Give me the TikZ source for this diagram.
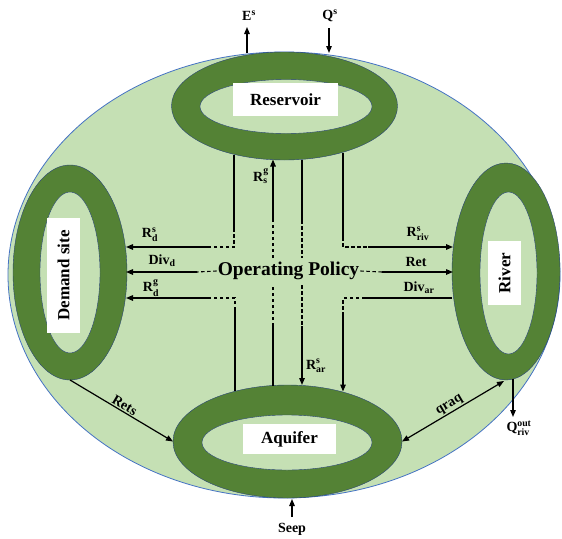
\documentclass[tikz,border=0pt]{standalone}
\usepackage{fontspec}
\setmainfont{Liberation Serif}
\usepackage{amsmath}
\usetikzlibrary{shapes.geometric,arrows.meta}
\definecolor{ringgreen}{HTML}{548235}
\definecolor{bggreen}{HTML}{C5E0B4}
\definecolor{edgeblue}{HTML}{4472C4}
\begin{document}
\begin{tikzpicture}[x=1pt,y=-1pt,
 ring/.style={ellipse, inner sep=0, outer sep=0, fill=ringgreen, draw=edgeblue!60!black, line width=0.4pt},
 hole/.style={ellipse, inner sep=0, outer sep=0, fill=bggreen, draw=edgeblue!60!black, line width=0.4pt},
 boxlbl/.style={fill=white, inner sep=0, font=\bfseries\fontsize{17}{20}\selectfont},
 tip/.style={-{Triangle[length=7pt,width=5.5pt]}},
 flow/.style={line width=1.4pt, tip},
 seg/.style={line width=1.4pt},
 dsh/.style={line width=1.1pt, dash pattern=on 3.5pt off 2.5pt},
 lab/.style={font=\bfseries\fontsize{14}{16}\selectfont, inner sep=1pt}]

\useasboundingbox (0,0) rectangle (562,538);
\node[ellipse, inner sep=0, outer sep=0, minimum width=552, minimum height=446, fill=bggreen, draw=edgeblue, line width=0.8pt] (sys) at (284,275) {};

% Reservoir
\node[ring, minimum width=226, minimum height=108] (res) at (284.5,106) {};
\node[hole, minimum width=172, minimum height=54] (resin) at (286,106.5) {};
\node[boxlbl, minimum width=105, minimum height=33] (reslbl) at (285.5,99.5) {Reservoir};

% Aquifer
\node[ring, minimum width=229, minimum height=113] (aqu) at (287.5,441.5) {};
\node[hole, minimum width=170, minimum height=55] (aquin) at (287,442.5) {};
\node[boxlbl, minimum width=93, minimum height=30] (aqulbl) at (289.5,439) {Aquifer};

% Demand site
\node[ring, minimum width=114, minimum height=215] (dem) at (70,272.5) {};
\node[hole, minimum width=60, minimum height=161] (demin) at (70,272.5) {};
\node[boxlbl, minimum width=115, minimum height=33, rotate=90] (demlbl) at (63.5,275.5) {Demand site};

% River
\node[ring, minimum width=108, minimum height=217] (riv) at (506,271.5) {};
\node[hole, minimum width=57, minimum height=162] (rivin) at (508.5,273) {};
\node[boxlbl, minimum width=64, minimum height=33, rotate=90] (rivlbl) at (504.5,273) {River};

% Operating policy
\node[font=\bfseries\fontsize{19.5}{22}\selectfont, inner sep=1pt] (op) at (288.5,271) {Operating Policy};

% R_d^s
\coordinate (a1) at (234,155);
\coordinate (a2) at (234,228);
\coordinate (a3) at (234,247);
\coordinate (a4) at (208,247);
\coordinate (a5) at (126,247);
\draw[seg] (a1) -- (a2);
\draw[dsh] (a2) -- (a3) -- (a4);
\draw[flow] (a4) -- (a5);
\node[lab] (lrds) at (150,235) {R$^{\text{s}}_{\text{d}}$};

% Div_d
\coordinate (v1) at (197,272);
\coordinate (v2) at (126,272);
\draw[dsh] (op.west) -- (v1);
\draw[flow] (v1) -- (v2);
\node[lab] (ldivd) at (162,261) {Div$_{\text{d}}$};

% R_d^g
\coordinate (g1) at (235,391);
\coordinate (g2) at (235,310);
\coordinate (g3) at (235,298);
\coordinate (g4) at (208,298);
\coordinate (g5) at (126,298);
\draw[seg] (g1) -- (g2);
\draw[dsh] (g2) -- (g3) -- (g4);
\draw[flow] (g4) -- (g5);
\node[lab] (lrdg) at (151,288) {R$^{\text{g}}_{\text{d}}$};

% R_s^g
\coordinate (b1) at (273,385.5);
\coordinate (b2) at (273,326);
\coordinate (b3) at (273,285);
\coordinate (b4) at (273,258);
\coordinate (b5) at (273,220);
\coordinate (b6) at (273,159.5);
\draw[seg] (b1) -- (b2);
\draw[dsh] (b2) -- (b3);
\draw[dsh] (b4) -- (b5);
\draw[flow] (b5) -- (b6);
\node[lab] (lrsg) at (261,176) {R$^{\text{g}}_{\text{s}}$};

% R_ar^s
\coordinate (c1) at (302,159.5);
\coordinate (c2) at (302,220);
\coordinate (c3) at (302,258);
\coordinate (c4) at (302,285);
\coordinate (c5) at (302,326);
\coordinate (c6) at (302,385);
\draw[seg] (c1) -- (c2);
\draw[dsh] (c2) -- (c3);
\draw[dsh] (c4) -- (c5);
\draw[flow] (c5) -- (c6);
\node[lab] (lrars) at (316,366) {R$^{\text{s}}_{\text{ar}}$};

% R_riv^s
\coordinate (d1) at (343,152.5);
\coordinate (d2) at (343,237);
\coordinate (d3) at (343,247);
\coordinate (d4) at (368,247);
\coordinate (d5) at (453,247);
\draw[seg] (d1) -- (d2);
\draw[dsh] (d2) -- (d3) -- (d4);
\draw[flow] (d4) -- (d5);
\node[lab] (lrrivs) at (418,234) {R$^{\text{s}}_{\text{riv}}$};

% Ret
\coordinate (r1) at (382,272);
\coordinate (r2) at (453,272);
\draw[dsh] (op.east) -- (r1);
\draw[flow] (r1) -- (r2);
\node[lab] (lret) at (416,262) {Ret};

% Div_ar
\coordinate (e1) at (452,298);
\coordinate (e2) at (365,298);
\coordinate (e3) at (343,298);
\coordinate (e4) at (343,312);
\coordinate (e5) at (343,391.5);
\draw[seg] (e1) -- (e2);
\draw[dsh] (e2) -- (e3) -- (e4);
\draw[flow] (e4) -- (e5);
\node[lab] (ldivar) at (419,288) {Div$_{\text{ar}}$};

% Rets
\draw[line width=1.2pt, tip] (dem.south) -- node[lab, sloped, above] (lrets) {Rets} (aqu.west);

% qraq
\coordinate (rq) at (504,381);
\draw[line width=1.2pt, {Triangle[length=7pt,width=5.5pt]}-{Triangle[length=7pt,width=5.5pt]}] (aqu.east) -- node[lab, sloped, above] (lqraq) {qraq} (rq);

% Q_riv^out
\coordinate (o1) at (513,379);
\coordinate (o2) at (513,417);
\draw[line width=1.2pt, tip] (o1) -- (o2);
\node[lab] (lqout) at (519,428) {Q$^{\text{out}}_{\text{riv}}$};

% Seep
\coordinate (sp) at (292,517);
\coordinate (sp2) at (292,499);
\draw[line width=1.2pt, tip] (sp) -- (sp2);
\node[lab] (lseep) at (292,529) {Seep};

% E^s
\coordinate (es1) at (247,53);
\coordinate (es2) at (247,27);
\draw[line width=1.2pt, tip] (es1) -- (es2);
\node[lab] (les) at (249,16) {E$^{\text{s}}$};

% Q^s
\coordinate (qs1) at (329,28);
\coordinate (qs2) at (329,53);
\draw[line width=1.2pt, tip] (qs1) -- (qs2);
\node[lab] (lqs) at (330,16) {Q$^{\text{s}}$};
\end{tikzpicture}
\end{document}
